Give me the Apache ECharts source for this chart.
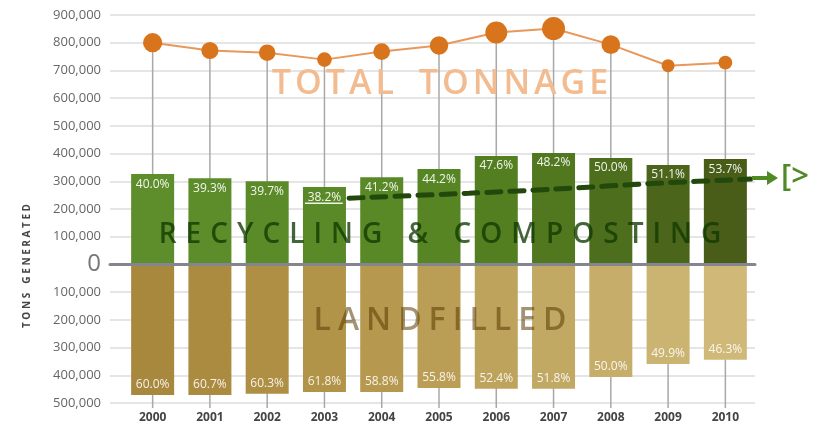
<!DOCTYPE html>
<html>
<head>
<meta charset="utf-8">
<script src="https://cdn.jsdelivr.net/npm/echarts@6/dist/echarts.min.js"></script>
<style>html,body{margin:0;padding:0;background:#fff}#c{width:818px;height:425px}</style>
</head>
<body>
<div id="c"></div>
<script>
// ---- data ----
const years = ['2000','2001','2002','2003','2004','2005','2006','2007','2008','2009','2010'];
const totalTons = [800000, 772000, 764000, 739000, 768000, 790000, 837000, 851000, 793000, 717000, 728000];
const recycledTons = [326000, 311000, 300000, 279000, 315000, 344000, 391000, 402000, 384000, 359000, 380000];
const landfilledTons = [471000, 471000, 467000, 460000, 460000, 446000, 449000, 449000, 406000, 359000, 344000];
const recycledPct = ['40.0%','39.3%','39.7%','38.2%','41.2%','44.2%','47.6%','48.2%','50.0%','51.1%','53.7%'];
const landfilledPct = ['60.0%','60.7%','60.3%','61.8%','58.8%','55.8%','52.4%','51.8%','50.0%','49.9%','46.3%'];
// recycling-rate trend arrow (x in category units, y in tons)
const trendX = [3.43, 5.52, 7.03, 8.81, 10.44];
const trendY = [239000, 257000, 272000, 293000, 308000];
const underlineX = [2.66, 3.32];
const underlineY = [221000, 221000];
const yMin = -500000, yMax = 900000, yStep = 100000;

// ---- styles ----
const greens = ['#5e8d2b','#5d8c2a','#5b8a28','#5a8927','#598826','#578524','#547f21','#51781f','#4d6e1c','#4b651a','#495c18'];
const browns = ['#a8883c','#ab8b40','#ae8f44','#b29449','#b6984f','#bb9e56','#bea35c','#c1a863','#c6ae6a','#cbb471','#d0b978'];
const FONT = '"Open Sans", Arial, sans-serif';

function spaced(str, key) {
  return str.split('').map(c => c === ' ' ? '{' + key + 'w| }' : '{' + key + '|' + c + '}').join('');
}

const chart = echarts.init(document.getElementById('c'), null, {renderer: 'canvas'});

const option = {
  animation: false,
  backgroundColor: '#fff',
  grid: [
    {left: 110, right: 63, top: 15, bottom: 22},
    {left: 124, right: 64, top: 15, bottom: 22}
  ],
  xAxis: [
    {gridIndex: 0, type: 'category', data: [''], axisLabel: {show: false}, axisTick: {show: false},
     axisLine: {show: true, onZero: true, lineStyle: {color: '#85858f', width: 3}}, z: 5},
    {gridIndex: 1, type: 'category', data: years, axisLine: {show: false}, axisTick: {show: false},
     axisLabel: {margin: 9, color: '#444', fontWeight: 'bold', fontSize: 12, fontFamily: FONT}},
    {gridIndex: 1, type: 'value', min: -0.5, max: 10.5, show: false}
  ],
  yAxis: [
    {gridIndex: 0, type: 'value', min: yMin, max: yMax, interval: yStep,
     axisLine: {show: false}, axisTick: {show: false},
     splitLine: {lineStyle: {color: '#dcdcdc', width: 1.5}},
     axisLabel: {margin: 9, color: '#666', fontSize: 13, fontFamily: FONT,
       formatter: v => v === 0 ? '{z|0}' : Math.abs(v).toLocaleString('en-US'),
       rich: {z: {fontSize: 24, color: '#777', fontFamily: FONT}}}},
    {gridIndex: 1, type: 'value', min: yMin, max: yMax, interval: yStep, show: false}
  ],
  series: [
    {
      type: 'custom', xAxisIndex: 1, yAxisIndex: 1, z: 1,
      data: totalTons.map((v, i) => [i, v]),
      renderItem: (params, api) => {
        const i = api.value(0);
        const top = api.coord([i, api.value(1)]);
        const bot = api.coord([i, yMin]);
        return {type: 'line', shape: {x1: top[0], y1: top[1], x2: bot[0], y2: bot[1] + 5},
                style: {stroke: '#a8a8a8', lineWidth: 1.5}};
      }
    },
    {
      type: 'bar', xAxisIndex: 1, yAxisIndex: 1, z: 2, barWidth: 43, barGap: '-100%',
      data: recycledTons.map((v, i) => ({value: v, itemStyle: {color: greens[i]}})),
      label: {show: true, position: 'insideTop', distance: 4, color: 'rgba(255,255,255,0.92)',
              fontSize: 12, fontFamily: FONT, formatter: p => recycledPct[p.dataIndex]}
    },
    {
      type: 'bar', xAxisIndex: 1, yAxisIndex: 1, z: 2, barWidth: 43, barGap: '-100%',
      data: landfilledTons.map((v, i) => ({value: -v, itemStyle: {color: browns[i]}})),
      label: {show: true, position: 'insideBottom', distance: 4, color: 'rgba(255,255,255,0.88)',
              fontSize: 12, fontFamily: FONT, formatter: p => landfilledPct[p.dataIndex]}
    },
    {
      type: 'line', xAxisIndex: 1, yAxisIndex: 1, z: 4, data: totalTons,
      symbol: 'circle',
      symbolSize: v => 13 + (v - 717000) / (851000 - 717000) * 10,
      lineStyle: {color: '#e8985a', width: 2},
      itemStyle: {color: '#d8741c'}
    },
    {
      type: 'line', xAxisIndex: 2, yAxisIndex: 1, z: 5, symbol: 'none', smooth: 0.3,
      data: trendX.map((x, i) => [x, trendY[i]]),
      lineStyle: {color: '#22480c', width: 5, type: [14, 9], cap: 'round'}
    },
    {
      type: 'line', xAxisIndex: 2, yAxisIndex: 1, z: 5, symbol: 'none',
      data: underlineX.map((x, i) => [x, underlineY[i]]),
      lineStyle: {color: 'rgba(255,255,255,0.9)', width: 1.5}
    }
  ],
  graphic: [
    {type: 'text', x: 440, y: 84, z: 10, silent: true,
     style: {text: spaced('TOTAL TONNAGE', 't'), align: 'center', verticalAlign: 'middle',
       rich: {t: {fontSize: 34, fontWeight: 600, fontFamily: FONT, fill: '#f3bb90', padding: [0, 2]},
              tw: {fontSize: 34, fontFamily: FONT, padding: [0, 6]}}}},
    {type: 'text', x: 440, y: 235, z: 10, silent: true,
     style: {text: spaced('RECYCLING & COMPOSTING', 'r'), align: 'center', verticalAlign: 'middle',
       rich: {r: {fontSize: 28, fontWeight: 600, fontFamily: FONT, fill: 'rgba(15,58,0,0.78)', padding: [0, 4.5]},
              rw: {fontSize: 28, fontFamily: FONT, padding: [0, 4.5]}}}},
    {type: 'text', x: 440, y: 321, z: 10, silent: true,
     style: {text: spaced('LANDFILLED', 'l'), align: 'center', verticalAlign: 'middle',
       rich: {l: {fontSize: 32, fontWeight: 600, fontFamily: FONT, fill: 'rgba(90,60,0,0.55)', padding: [0, 3.5]}}}},
    {type: 'text', x: 27, y: 266, rotation: Math.PI / 2, z: 10, silent: true,
     style: {text: spaced('TONS GENERATED', 'n'), align: 'center', verticalAlign: 'middle',
       rich: {n: {fontSize: 10, fontWeight: 'bold', fontFamily: FONT, fill: '#444', padding: [0, 1.3]},
              nw: {fontSize: 10, fontFamily: FONT, padding: [0, 2]}}}},
    {type: 'line', z: 10, shape: {x1: 752, y1: 178, x2: 770, y2: 178}, style: {stroke: '#4f8a25', lineWidth: 4}},
    {type: 'polygon', z: 10, shape: {points: [[767, 171], [778, 178], [767, 185]]}, style: {fill: '#4f8a25'}},
    {type: 'text', x: 781, y: 177, z: 10,
     style: {text: '[>', fontSize: 31, fontWeight: 600, fontFamily: FONT, fill: '#4f8a25', verticalAlign: 'middle'}}
  ]
};
chart.setOption(option);
</script>
</body>
</html>
